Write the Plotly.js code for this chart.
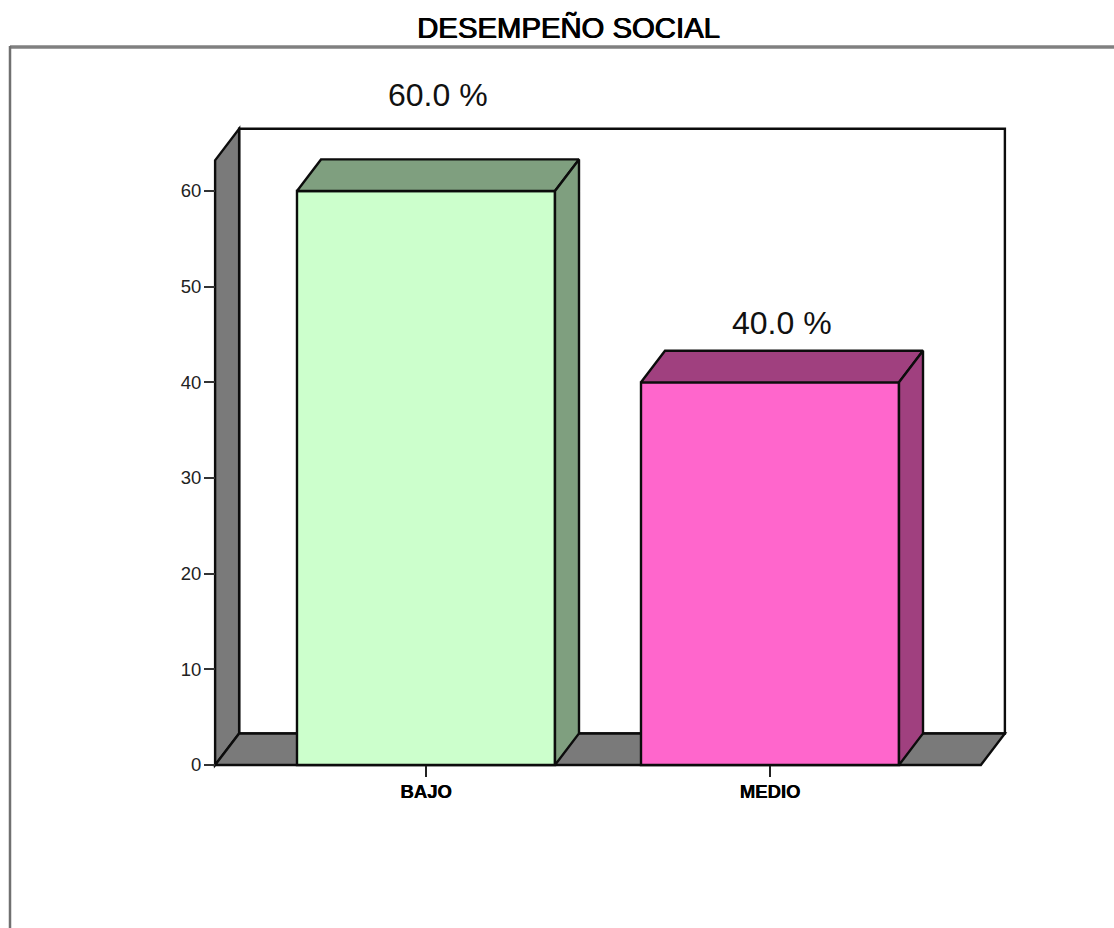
<!DOCTYPE html>
<html>
<head>
<meta charset="utf-8">
<script src="https://cdn.plot.ly/plotly-3.0.1.min.js"></script>
<style>html,body{margin:0;padding:0;background:#fff}</style>
</head>
<body>
<div id="chart" style="width:1114px;height:928px"></div>
<script>
// Survey result: share of respondents per level
const categories = ['BAJO', 'MEDIO'];
const percentages = [60.0, 40.0];
const faceColours = ['#CCFFCC', '#FF66CC'];
const sideColours = ['#7F9F7F', '#A0407F'];
const yTicks = [0, 10, 20, 30, 40, 50, 60];
const labelLift = [64, 28];

// Extruded look: depth of the box expressed in axis units
const depthX = 0.0698;
const depthY = 3.3;
const barWidth = 0.75;
const floorLeft = -0.613;
const floorRight = 1.613;
const wallTop = 63.2;
const EDGE = '#0c0c0c';
const EDGE_W = 2.4;

const W = 1114, H = 928;
const M = {l: 205, r: 99, t: 120, b: 153};
const plotW = W - M.l - M.r, plotH = H - M.t - M.b;
const px = v => (v - M.l) / plotW;
const py = v => (H - M.b - v) / plotH;

function polygon(xs, ys, fill) {
  const path = xs.map((x, i) => (i ? 'L' : 'M') + x + ',' + ys[i]).join(' ') + ' Z';
  return {type: 'path', xref: 'x', yref: 'y', layer: 'below', path,
          fillcolor: fill, line: {color: EDGE, width: EDGE_W}};
}

const idx = categories.map((_, i) => i);

// Front faces of the columns
const faces = {
  type: 'bar', x: idx, y: percentages, width: barWidth,
  marker: {color: faceColours, line: {color: EDGE, width: EDGE_W}},
  hoverinfo: 'skip', showlegend: false
};

function boxPart(xs, ys, fill) {
  return {type: 'scatter', mode: 'lines', x: xs.concat(xs[0]), y: ys.concat(ys[0]),
          fill: 'toself', fillcolor: fill, line: {color: EDGE, width: EDGE_W},
          hoverinfo: 'skip', showlegend: false};
}

const tops = idx.map(i => {
  const a = i - barWidth / 2, b = i + barWidth / 2, v = percentages[i];
  return boxPart([a, b, b + depthX, a + depthX], [v, v, v + depthY, v + depthY], sideColours[i]);
});
const sides = idx.map(i => {
  const b = i + barWidth / 2, v = percentages[i];
  return boxPart([b, b + depthX, b + depthX, b], [0, depthY, v + depthY, v], sideColours[i]);
});

const room = [
  // back wall
  polygon([floorLeft + depthX, floorRight + depthX, floorRight + depthX, floorLeft + depthX],
          [depthY, depthY, wallTop + depthY, wallTop + depthY], '#FFFFFF'),
  // side wall
  polygon([floorLeft, floorLeft + depthX, floorLeft + depthX, floorLeft],
          [0, depthY, wallTop + depthY, wallTop], '#7A7A7A'),
  // floor
  polygon([floorLeft, floorRight, floorRight + depthX, floorLeft + depthX],
          [0, 0, depthY, depthY], '#7A7A7A')
];

// Outer chart frame, open on the right and at the bottom
const frame = [
  {type: 'line', xref: 'paper', yref: 'paper', x0: px(10), x1: px(W), y0: py(47), y1: py(47),
   layer: 'below', line: {color: '#808080', width: 3.5}},
  {type: 'line', xref: 'paper', yref: 'paper', x0: px(10), x1: px(10), y0: py(46), y1: py(H),
   layer: 'below', line: {color: '#707070', width: 2.5}}
];

const valueLabels = idx.map(i => ({
  xref: 'x', yref: 'y', x: i + depthX / 2, y: percentages[i] + depthY,
  yshift: labelLift[i], text: percentages[i].toFixed(1) + ' %', showarrow: false,
  xanchor: 'center', yanchor: 'middle',
  font: {family: 'Liberation Sans, Arial, sans-serif', size: 32, color: '#111'}
}));

const layout = {
  width: W, height: H, autosize: false,
  margin: M, paper_bgcolor: '#fff', plot_bgcolor: 'rgba(0,0,0,0)',
  showlegend: false, bargap: 0,
  title: {
    text: 'DESEMPEÑO SOCIAL', x: 568.5 / W, xanchor: 'center', y: 1 - 28 / H, yanchor: 'middle',
    font: {family: 'Liberation Sans, Arial, sans-serif', size: 29.3, color: '#000',
           shadow: '0.6px 0 0 #000, -0.4px 0 0 #000'}
  },
  xaxis: {
    range: [-0.6424, 1.7122], anchor: 'free', position: py(765),
    tickmode: 'array', tickvals: idx, ticktext: categories,
    ticks: 'outside', ticklen: 11, tickwidth: 2, tickcolor: '#222',
    ticklabelstandoff: -1,
    showgrid: false, zeroline: false, showline: false, fixedrange: true,
    tickfont: {family: 'Liberation Sans, Arial, sans-serif', size: 18.5, color: '#000', weight: 700,
               shadow: '0.4px 0 0 #000'}
  },
  yaxis: {
    range: [-1.045, 67.42], anchor: 'free', position: px(215), side: 'left',
    tickmode: 'array', tickvals: yTicks, ticktext: yTicks.map(String),
    ticks: 'outside', ticklen: 11, tickwidth: 2, tickcolor: '#333',
    ticklabelstandoff: -1,
    showgrid: false, zeroline: false, showline: false, fixedrange: true,
    tickfont: {family: 'Liberation Sans, Arial, sans-serif', size: 18.5, color: '#222'}
  },
  shapes: frame.concat(room),
  annotations: valueLabels
};

Plotly.newPlot('chart', [faces].concat(tops, sides), layout, {displayModeBar: false, staticPlot: true});
</script>
</body>
</html>
